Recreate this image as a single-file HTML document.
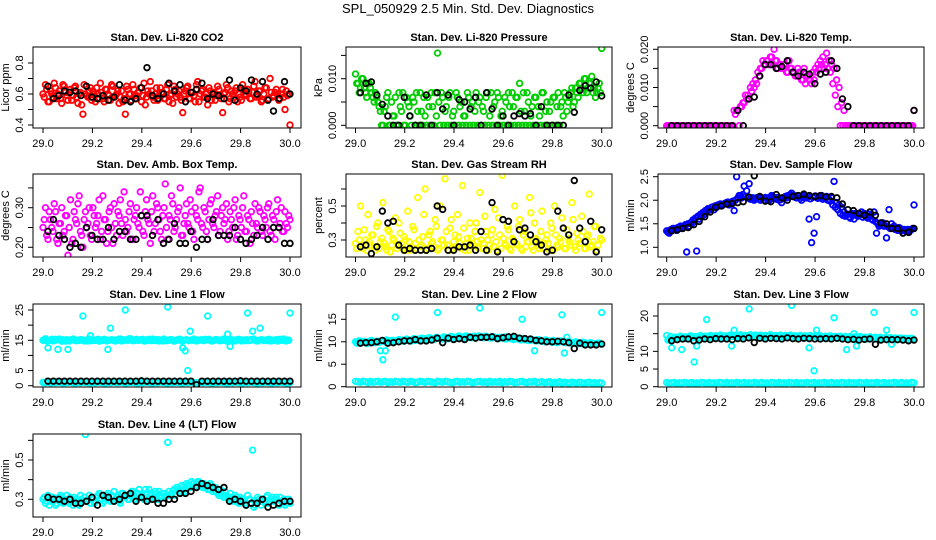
<!DOCTYPE html>
<html><head><meta charset="utf-8"><style>
html,body{margin:0;padding:0;background:#fff;}
svg{display:block;font-family:"Liberation Sans",Arial,sans-serif;}
</style></head><body>
<svg id="chart" width="936" height="540" viewBox="0 0 936 540" xmlns="http://www.w3.org/2000/svg">
<text x="468" y="13" text-anchor="middle" font-size="13">SPL_050929  2.5 Min. Std. Dev. Diagnostics</text>
</svg>
<script>
// ---- data ----
const xTicks = [29.0, 29.2, 29.4, 29.6, 29.8, 30.0];
const xTickLabels = ["29.0","29.2","29.4","29.6","29.8","30.0"];

const co2Color = [0.6,0.66,0.55,0.62,0.58,0.64,0.6,0.57,0.66,0.61,0.56,0.63,0.59,0.65,0.54,0.61,0.47,0.6,0.58,0.64,0.62,0.55,0.6,0.67,0.57,0.63,0.6,0.56,0.65,0.59,0.62,0.58,0.55,0.47,0.63,0.6,0.66,0.57,0.61,0.64,0.59,0.53,0.62,0.68,0.58,0.6,0.56,0.64,0.61,0.57,0.66,0.59,0.54,0.63,0.6,0.58,0.48,0.62,0.65,0.57,0.61,0.55,0.68,0.6,0.63,0.58,0.53,0.62,0.6,0.56,0.65,0.59,0.48,0.61,0.64,0.57,0.6,0.62,0.55,0.58,0.66,0.6,0.63,0.57,0.61,0.68,0.59,0.62,0.56,0.64,0.94,0.7,0.58,0.61,0.6,0.57,0.63,0.5,0.59,0.4];
const co2ColorB = [0.58,0.63,0.55,0.6,0.67,0.57,0.62,0.54,0.65,0.59,0.61,0.56,0.64,0.58,0.6,0.53,0.66,0.59,0.62,0.56,0.6,0.64,0.57,0.61,0.55,0.63,0.59,0.66,0.58,0.6,0.54,0.62,0.57,0.65,0.6,0.56,0.63,0.59,0.61,0.55,0.67,0.58,0.6,0.62,0.56,0.64,0.59,0.61,0.57,0.63,0.55,0.6,0.65,0.58,0.62,0.56,0.6,0.64,0.57,0.61,0.59,0.66,0.55,0.62,0.58,0.6,0.64,0.56,0.61,0.59,0.63,0.57,0.6,0.66,0.55,0.62,0.58,0.64,0.6,0.56,0.63,0.59,0.61,0.57,0.65,0.58,0.62,0.55,0.6,0.64,0.57,0.61,0.59,0.63,0.56,0.6,0.58,0.62,0.6];
const co2Black = [0.65,0.57,0.59,0.62,0.61,0.62,0.59,0.65,0.58,0.57,0.59,0.56,0.58,0.66,0.56,0.55,0.57,0.64,0.77,0.59,0.57,0.6,0.67,0.62,0.66,0.55,0.61,0.63,0.67,0.57,0.6,0.59,0.57,0.69,0.56,0.64,0.62,0.69,0.6,0.68,0.56,0.49,0.57,0.68,0.6];

const presColor = [0.011,0.009,0.008,0.01,0.007,0.009,0.008,0.006,0.007,0.005,0.003,0.0,0.004,0.007,0.0,0.002,0.006,0.0,0.004,0.007,0.0,0.005,0.002,0.006,0.0,0.003,0.007,0.0,0.002,0.006,0.0,0.004,0.007,0.0155,0.0,0.006,0.003,0.0,0.007,0.002,0.0,0.006,0.004,0.0,0.002,0.007,0.0,0.005,0.003,0.0,0.006,0.004,0.0,0.007,0.002,0.0,0.005,0.007,0.0,0.003,0.006,0.0,0.004,0.007,0.0,0.006,0.009,0.0,0.003,0.007,0.0,0.004,0.006,0.0,0.002,0.007,0.0,0.005,0.003,0.0,0.006,0.004,0.0,0.005,0.007,0.003,0.006,0.008,0.005,0.007,0.009,0.008,0.01,0.007,0.009,0.0105,0.008,0.007,0.009,0.0165];
const presColorB = [0.009,0.007,0.01,0.008,0.006,0.009,0.007,0.005,0.006,0.004,0.0,0.003,0.006,0.0,0.005,0.002,0.0,0.007,0.003,0.0,0.006,0.004,0.0,0.005,0.007,0.0,0.003,0.006,0.0,0.004,0.007,0.0,0.002,0.005,0.007,0.0,0.004,0.006,0.0,0.003,0.007,0.0,0.005,0.002,0.0,0.006,0.004,0.0,0.007,0.005,0.0,0.003,0.006,0.0,0.007,0.004,0.0,0.006,0.002,0.0,0.005,0.007,0.0,0.004,0.006,0.0,0.003,0.007,0.0,0.005,0.002,0.0,0.006,0.004,0.0,0.007,0.003,0.0,0.005,0.006,0.0,0.007,0.004,0.002,0.006,0.005,0.007,0.004,0.008,0.006,0.009,0.007,0.01,0.008,0.009,0.007,0.006,0.008,0.007];
const presBlack = [0.007,0.009,0.0093,0.0065,0.0045,0.002,0.0,0.0,0.006,0.002,0.0,0.0,0.0065,0.0,0.007,0.0035,0.0065,0.0,0.0055,0.005,0.0035,0.006,0.0,0.007,0.0035,0.0,0.002,0.0,0.002,0.0025,0.002,0.0025,0.0,0.004,0.0,0.0,0.0,0.0,0.0065,0.0028,0.0075,0.0085,0.008,0.0093,0.0063];

const tempColor = [0,0,0,0,0,0,0,0,0,0,0,0,0,0,0,0,0,0,0,0,0,0,0,0,0,0,0,0.004,0.004,0,0.005,0.006,0.007,0.007,0.009,0.01,0.011,0.013,0.015,0.016,0.017,0.016,0.018,0.02,0.017,0.016,0.015,0.016,0.014,0.017,0.015,0.014,0.013,0.014,0.012,0.015,0.013,0.012,0.011,0.012,0.014,0.015,0.016,0.015,0.019,0.017,0.016,0.015,0.012,0.01,0.006,0.004,0,0,0,0,0,0,0,0,0,0,0,0,0,0,0,0,0,0,0,0,0,0,0,0,0,0,0,0.004];
const tempColorB = [0,0,0,0,0,0,0,0,0,0,0,0,0,0,0,0,0,0,0,0,0,0,0,0,0,0,0,0.003,0.004,0.005,0.006,0.008,0.008,0.01,0.011,0.012,0.014,0.015,0.017,0.016,0.017,0.018,0.016,0.017,0.015,0.016,0.015,0.016,0.014,0.015,0.014,0.013,0.015,0.014,0.012,0.011,0.013,0.012,0.014,0.015,0.016,0.017,0.018,0.016,0.015,0.014,0.011,0.008,0.005,0,0,0,0,0,0,0,0,0,0,0,0,0,0,0,0,0,0,0,0,0,0,0,0,0,0,0,0,0,0];
const tempBlack = [0,0,0,0,0,0,0,0,0,0,0,0,0.004,0,0.007,0.0075,0.013,0.016,0.016,0.015,0.0155,0.017,0.014,0.013,0.014,0.0135,0.011,0.0135,0.014,0.017,0.015,0.007,0.005,0,0,0,0,0,0,0,0,0,0,0,0.004];

const ambColor = [0.25,0.3,0.22,0.27,0.24,0.29,0.21,0.26,0.23,0.28,0.18,0.32,0.22,0.27,0.31,0.24,0.2,0.29,0.26,0.23,0.3,0.25,0.28,0.22,0.33,0.27,0.24,0.3,0.21,0.26,0.29,0.32,0.23,0.27,0.25,0.31,0.22,0.28,0.26,0.34,0.24,0.29,0.27,0.21,0.33,0.26,0.3,0.24,0.28,0.36,0.22,0.27,0.31,0.25,0.29,0.35,0.23,0.28,0.26,0.32,0.24,0.3,0.27,0.35,0.25,0.29,0.22,0.31,0.26,0.28,0.33,0.24,0.3,0.27,0.22,0.29,0.25,0.32,0.23,0.27,0.3,0.24,0.28,0.21,0.26,0.31,0.25,0.29,0.23,0.27,0.3,0.24,0.28,0.22,0.32,0.26,0.24,0.29,0.25,0.27];
const ambColorB = [0.27,0.23,0.29,0.25,0.31,0.22,0.26,0.3,0.24,0.28,0.25,0.21,0.29,0.26,0.33,0.23,0.27,0.25,0.3,0.22,0.28,0.26,0.32,0.24,0.27,0.21,0.29,0.25,0.31,0.23,0.28,0.26,0.34,0.24,0.29,0.22,0.27,0.3,0.25,0.28,0.23,0.32,0.26,0.29,0.24,0.31,0.27,0.22,0.3,0.25,0.28,0.33,0.24,0.27,0.3,0.23,0.26,0.31,0.25,0.29,0.22,0.28,0.34,0.26,0.3,0.24,0.27,0.32,0.25,0.29,0.23,0.28,0.26,0.31,0.24,0.27,0.3,0.22,0.28,0.25,0.33,0.24,0.27,0.29,0.23,0.26,0.3,0.24,0.28,0.25,0.31,0.23,0.27,0.29,0.25,0.3,0.24,0.26,0.28];
const ambBlack = [0.24,0.27,0.23,0.22,0.2,0.21,0.2,0.25,0.23,0.22,0.22,0.25,0.22,0.24,0.24,0.22,0.22,0.28,0.28,0.23,0.27,0.21,0.22,0.26,0.21,0.21,0.24,0.2,0.22,0.22,0.27,0.23,0.23,0.23,0.25,0.22,0.21,0.22,0.23,0.25,0.22,0.25,0.25,0.21,0.21];

const rhColor = [0.28,0.35,0.5,0.25,0.3,0.45,0.27,0.33,0.24,0.4,0.29,0.52,0.26,0.36,0.23,0.31,0.43,0.27,0.34,0.25,0.3,0.47,0.24,0.38,0.28,0.55,0.26,0.32,0.6,0.25,0.35,0.29,0.42,0.24,0.5,0.3,0.66,0.27,0.37,0.25,0.33,0.45,0.28,0.62,0.24,0.31,0.4,0.26,0.35,0.29,0.58,0.25,0.44,0.3,0.27,0.36,0.48,0.24,0.33,0.68,0.28,0.38,0.25,0.31,0.5,0.27,0.42,0.24,0.35,0.29,0.55,0.26,0.4,0.3,0.25,0.47,0.28,0.33,0.24,0.37,0.5,0.27,0.31,0.43,0.25,0.36,0.29,0.52,0.26,0.34,0.28,0.44,0.25,0.32,0.57,0.27,0.38,0.24,0.72,0.3];
const rhColorB = [0.25,0.3,0.27,0.36,0.24,0.29,0.33,0.26,0.38,0.25,0.31,0.28,0.24,0.35,0.27,0.3,0.25,0.4,0.28,0.32,0.24,0.29,0.26,0.36,0.25,0.3,0.27,0.45,0.24,0.33,0.28,0.26,0.38,0.25,0.3,0.27,0.35,0.24,0.42,0.29,0.26,0.32,0.25,0.37,0.28,0.24,0.31,0.27,0.4,0.25,0.3,0.28,0.35,0.24,0.33,0.26,0.29,0.43,0.25,0.31,0.27,0.36,0.24,0.3,0.28,0.38,0.25,0.33,0.26,0.29,0.46,0.24,0.31,0.27,0.35,0.25,0.3,0.28,0.4,0.24,0.33,0.26,0.29,0.37,0.25,0.31,0.27,0.42,0.24,0.3,0.28,0.35,0.25,0.33,0.26,0.29,0.38,0.27,0.31];
const rhBlack = [0.26,0.27,0.22,0.26,0.47,0.4,0.41,0.27,0.24,0.25,0.24,0.24,0.24,0.25,0.5,0.48,0.24,0.24,0.26,0.26,0.27,0.24,0.35,0.24,0.52,0.23,0.42,0.41,0.29,0.36,0.37,0.33,0.29,0.27,0.23,0.24,0.47,0.37,0.33,0.65,0.37,0.29,0.41,0.23,0.36];

const sampleColor = [1.35,1.3,1.38,1.4,1.36,1.42,1.4,1.45,0.9,1.45,1.5,1.55,0.92,1.6,1.65,1.7,1.75,1.8,1.85,1.8,1.85,1.9,1.88,1.92,1.95,1.9,1.95,1.78,2.5,2.1,2.05,2.3,2.2,2.35,2.05,2.0,2.05,2.02,2.05,2.0,2.05,2.0,2.1,2.05,2.02,2.0,1.95,2.05,2.05,2.1,2.15,2.1,2.05,2.08,2.0,2.1,2.05,1.6,1.1,1.3,1.65,2.05,2.1,2.05,2.08,2.02,2.05,2.4,1.95,1.9,1.85,1.75,1.7,1.65,1.72,1.6,1.68,1.7,1.75,1.72,1.65,1.7,1.6,1.75,1.3,1.45,1.5,1.45,1.2,1.8,1.5,1.45,1.4,1.42,1.35,1.38,1.35,1.32,1.38,1.9];
const sampleColorB = [1.32,1.37,1.4,1.38,1.42,1.45,1.43,1.48,1.5,1.52,1.58,1.62,1.66,1.7,1.74,1.78,1.82,1.8,1.86,1.88,1.9,1.92,1.9,1.94,1.96,1.93,1.98,2.0,2.05,2.1,2.12,2.08,2.05,2.02,2.05,2.03,2.06,2.0,2.04,2.06,2.02,2.05,2.08,2.03,2.06,2.01,2.04,2.08,2.1,2.12,2.08,2.06,2.1,2.04,2.07,2.05,2.08,2.03,2.06,2.09,2.04,2.07,2.02,2.05,2.0,1.98,1.9,1.85,1.8,1.72,1.68,1.66,1.7,1.62,1.68,1.72,1.66,1.7,1.64,1.68,1.62,1.66,1.58,1.55,1.5,1.48,1.52,1.46,1.44,1.4,1.42,1.38,1.36,1.4,1.37,1.35,1.38,1.36,1.4];
const sampleBlack = [1.35,1.37,1.4,1.42,1.48,1.55,1.65,1.75,1.85,1.88,1.92,1.93,1.95,1.97,2.07,2.52,2.08,1.98,1.97,2.12,2.05,2.0,2.08,2.1,2.13,2.1,2.08,2.1,2.07,2.08,2.05,1.92,1.8,1.78,1.72,1.68,1.75,1.68,1.52,1.5,1.4,1.4,1.3,1.32,1.4];

const line1High = [15,15.5,12.5,15,14.8,15.3,12,15,15.2,14.7,12,15.1,15.4,14.9,15,15.2,23,15,14.8,16.5,15.1,15,15.3,14.9,15,15.2,12,19,15.1,14.8,15,15.4,15.2,25,15,15.5,14.9,15.1,15,15.2,15.3,14.8,15,15.1,15.4,14.9,15.2,15,14.8,15.1,26,15.2,15,14.9,15.1,15.3,12.5,11.5,5,18,15,15.2,14.9,15.1,15,15.3,23,15,14.8,15.2,15.1,14.9,15,15.2,17,13,15.1,14.8,15.2,15,15.1,14.9,24,15.2,18,15,14.8,19,15.1,15,14.9,15.2,15,15.1,14.8,15.3,15,14.9,15.1,24];
const line1HighB = [15.2,14.8,15,15.3,14.9,15.1,15.4,14.7,15,15.2,14.8,15.1,15.3,14.9,15,15.2,14.8,15.1,15.4,14.9,15,15.2,14.7,15.1,15.3,14.8,15,15.2,14.9,15.1,15.4,14.8,15,15.2,15.5,15.1,14.9,15.3,15,15.2,14.8,15.1,15.3,14.9,15,15.2,14.8,15.1,15.4,14.9,15,15.2,14.7,15.1,15.3,14.8,15,15.2,14.9,15.1,15.4,14.8,15,15.2,14.9,15.1,15.3,14.8,15,15.2,14.9,15.1,15.4,14.8,15,15.2,14.9,15.1,15.3,14.8,15,15.2,14.9,15.1,15.4,14.8,15,15.2,14.9,15.1,15.3,14.8,15,15.2,14.9,15.1,15.4,14.8,15];
const line1Low = [1.1,1.0,1.2,0.9,1.1,1.0,1.2,1.1,0.9,1.0,1.1,1.2,1.0,0.9,1.1,1.0,1.2,1.1,1.0,0.9,1.1,1.0,1.2,1.1,1.0,0.9,1.1,1.0,1.2,1.1,1.0,1.2,1.1,0.9,1.0,1.1,1.2,1.0,0.9,1.1,1.0,1.2,1.1,1.0,0.9,1.1,1.0,1.2,1.1,1.0,0.9,1.1,1.0,1.2,1.1,1.0,0.9,1.1,1.0,1.2,1.1,1.0,0.9,1.1,1.0,1.2,1.1,1.0,0.9,1.1,1.0,1.2,1.1,1.0,0.9,1.1,1.0,1.2,1.1,1.0,0.9,1.1,1.0,1.2,1.1,1.0,0.9,1.1,1.0,1.2,1.1,1.0,0.9,1.1,1.0,1.2,1.1,1.0,0.9,1.1];
const line1Black = [1.5,1.5,1.5,1.5,1.5,1.5,1.5,1.5,1.5,1.5,1.5,1.5,1.5,1.5,1.5,1.5,1.5,1.6,1.5,1.5,1.5,1.5,1.5,1.5,1.5,1.5,1.5,0.3,1.5,1.5,1.5,1.5,1.5,1.5,1.5,1.6,1.5,1.5,1.5,1.5,1.5,1.5,1.5,1.5,1.5];

const line2High = [10,9.8,10.1,9.9,10,9.7,10.2,9.9,10,10.1,8,6,8,10.2,10,10.3,15.5,10.1,10.2,10.4,10.3,10.5,10.2,10.4,10.3,10.6,10.4,10.5,10.7,10.6,10.8,10.5,10.7,16.5,10.8,10.6,10.9,10.7,11,10.8,10.9,11.1,10.8,11,11.2,10.9,11.1,11,11.2,11.1,17.5,11,11.2,11.1,10.9,11.1,11,10.8,11,10.9,11.1,10.8,11,10.9,10.7,10.9,10.6,15,10.5,10.4,10.3,10.5,8,10.2,10.3,10.1,10,10.2,10.1,9.9,10,9.8,10,16,7.5,11,9.8,9.6,9.8,9.5,9.7,9.6,9.8,9.5,9.7,9.4,9.6,9.5,9.7,16.5];
const line2HighB = [9.7,10.2,9.9,10.1,9.6,10,10.3,9.8,10.1,9.9,10.2,10,10.4,10.1,10.3,10,10.2,10.5,10.3,10.1,10.6,10.4,10.2,10.7,10.5,10.3,10.8,10.6,10.4,10.9,10.7,10.5,11,10.8,10.6,11.1,10.9,10.7,11.2,11,10.8,11.3,11.1,10.9,11.3,11.1,10.9,11.2,11,11.3,11.1,10.9,11.2,11,10.8,11.1,10.9,10.7,11,10.8,10.6,10.9,10.7,10.5,10.8,10.6,10.4,10.7,10.5,10.3,10.6,10.4,10.2,10.5,10.3,10.1,10.4,10.2,10,10.3,10.1,9.9,10.2,10,9.8,10.1,9.9,9.7,10,9.8,9.6,9.9,9.7,9.5,9.8,9.6,9.4,9.7,9.5];
const line2Low = [1.2,1.1,1.0,1.2,1.1,0.9,1.2,1.0,1.1,1.2,1.0,1.1,1.2,0.9,1.1,1.0,1.2,1.1,1.0,1.2,1.1,1.0,1.2,1.1,0.9,1.0,1.2,1.1,1.0,1.2,1.1,1.0,0.9,1.2,1.1,1.0,1.2,1.1,1.0,0.9,1.1,1.2,1.0,1.1,1.0,1.2,1.1,0.9,1.0,1.1,1.2,1.0,1.1,0.9,1.2,1.0,1.1,1.0,1.2,0.9,1.1,1.0,1.2,1.1,0.9,1.0,1.1,1.2,1.0,0.9,1.1,1.0,1.2,0.9,1.0,1.1,0.9,1.0,1.1,0.8,1.0,0.9,1.1,0.8,1.0,0.9,0.8,1.0,0.9,0.8,1.0,0.9,0.8,0.9,1.0,0.8,0.9,0.7,0.9,0.8];
const line2Black = [9.7,9.8,9.8,10,10.3,9.7,9.8,10,10.2,10.2,10.5,10.2,10.2,10.4,10.8,9.8,10.8,10.5,10.7,10.5,11,10.8,11,11,11.1,10.7,10.9,11.1,11.2,10.8,10.7,10.6,10.3,10.2,10,10,10.1,10,9.8,8.5,9.7,9.3,9.3,9.3,9.5];

const line3High = [14.5,13.5,11,13.7,13.5,13.8,10.5,13.9,13.6,14,13.8,7,11.5,13.9,14,13.7,19,14.1,13.8,14,14.2,13.9,14.1,13.8,14,14.2,11.5,16,14.1,14,14.2,13.9,14.1,22,14,14.2,14.1,13.9,14.2,14,14.1,14.3,14,14.2,14.1,13.9,14.2,14,14.1,14.3,23,14.1,14,14.2,13.9,14.1,13.8,11,14,4.5,16,14.2,13.9,14.1,14,13.8,14.1,19.5,14,13.8,13.9,13.7,10.5,13.8,13.9,15,11.5,13.8,13.7,13.9,13.6,13.8,13.7,21,13.8,13.5,13.7,13.6,16,13.8,12,13.6,13.5,13.7,13.6,13.4,13.6,13.5,13.7,21];
const line3HighB = [13.2,14.2,13.6,14,13.4,14.3,13.8,14.1,13.5,14.4,13.9,14.2,13.6,14.5,14,14.3,13.8,14.5,14.1,14.4,13.9,14.6,14.2,14.4,14,14.6,14.2,14.5,14,14.7,14.3,14.5,14.1,14.7,14.3,14.6,14.1,14.6,14.2,14.5,14,14.7,14.3,14.5,14.1,14.6,14.2,14.5,14,14.6,14.2,14.4,13.9,14.5,14.1,14.4,13.9,14.5,14.1,14.4,13.9,14.4,14,14.3,13.8,14.4,14,14.2,13.7,14.3,13.9,14.2,13.7,14.2,13.8,14.1,13.6,14.2,13.8,14,13.5,14.1,13.7,14,13.5,14,13.6,13.9,13.4,13.9,13.6,13.8,13.3,13.8,13.5,13.7,13.3,13.7,13.5];
const line3Low = [1.2,1.0,1.1,1.2,0.9,1.1,1.0,1.2,1.1,1.0,1.2,0.9,1.1,1.0,1.2,1.1,1.0,1.2,0.9,1.1,1.0,1.2,1.1,1.0,1.2,0.9,1.1,1.0,1.2,1.1,1.0,1.2,0.9,1.1,1.0,1.2,1.1,1.0,1.2,0.9,1.1,1.0,1.2,1.1,1.0,1.2,0.9,1.1,1.0,1.2,1.1,1.0,1.2,0.9,1.1,1.0,1.2,1.1,1.0,1.2,0.9,1.1,1.0,1.2,1.1,1.0,1.2,0.9,1.1,1.0,1.2,1.1,1.0,1.2,0.9,1.1,1.0,1.2,1.1,1.0,1.2,0.9,1.1,1.0,1.2,1.1,1.0,1.2,0.9,1.1,1.0,1.2,1.1,1.0,1.2,0.9,1.1,1.0,1.2,1.1];
const line3Black = [13,13.3,13.5,13.5,13,13.2,13.5,13.3,13.6,13.5,13.5,13.3,13.6,13.5,13.8,12.5,13.7,13.5,13.7,13.6,13.5,13.8,13.6,13.5,13.7,13.6,13.5,13.5,13.6,13.5,13.7,13.5,13.3,13.4,13.2,13.4,13.5,12,13.2,13.3,13.3,13.3,13.2,13,13.2];

const line4Color = [0.3,0.28,0.32,0.29,0.31,0.27,0.3,0.32,0.28,0.3,0.29,0.31,0.27,0.3,0.28,0.32,0.29,0.63,0.3,0.28,0.31,0.29,0.32,0.3,0.28,0.31,0.33,0.29,0.31,0.3,0.32,0.28,0.33,0.31,0.3,0.32,0.34,0.3,0.33,0.31,0.32,0.35,0.3,0.33,0.31,0.34,0.3,0.32,0.33,0.31,0.59,0.32,0.34,0.32,0.35,0.33,0.36,0.34,0.37,0.36,0.38,0.37,0.39,0.38,0.36,0.37,0.35,0.38,0.34,0.36,0.33,0.35,0.32,0.34,0.31,0.33,0.3,0.32,0.29,0.31,0.3,0.28,0.32,0.3,0.55,0.27,0.31,0.29,0.3,0.28,0.32,0.29,0.31,0.3,0.28,0.31,0.29,0.27,0.3,0.28];
const line4ColorB = [0.31,0.29,0.27,0.31,0.3,0.28,0.31,0.29,0.3,0.32,0.28,0.3,0.31,0.29,0.27,0.3,0.31,0.29,0.32,0.3,0.28,0.31,0.33,0.3,0.29,0.32,0.3,0.32,0.34,0.31,0.29,0.33,0.31,0.32,0.3,0.34,0.32,0.31,0.35,0.32,0.3,0.33,0.35,0.32,0.31,0.33,0.34,0.31,0.33,0.32,0.34,0.33,0.35,0.36,0.34,0.37,0.35,0.38,0.37,0.39,0.38,0.37,0.39,0.37,0.38,0.36,0.35,0.37,0.35,0.34,0.32,0.33,0.31,0.32,0.3,0.31,0.29,0.31,0.28,0.3,0.29,0.27,0.3,0.28,0.26,0.29,0.3,0.27,0.29,0.31,0.28,0.3,0.29,0.31,0.27,0.29,0.3,0.28,0.3];
const line4Black = [0.31,0.3,0.3,0.29,0.3,0.28,0.28,0.29,0.31,0.27,0.32,0.31,0.29,0.3,0.32,0.33,0.29,0.31,0.29,0.3,0.28,0.28,0.3,0.3,0.33,0.33,0.34,0.36,0.38,0.37,0.36,0.35,0.36,0.29,0.3,0.29,0.27,0.28,0.28,0.3,0.26,0.27,0.28,0.29,0.29];

// ---- layout ----
const cols = [{l:33,r:301,x0:43,x1:290},{l:346,r:612,x0:355.5,x1:601.7},{l:658,r:924,x0:666.7,x1:914}];
const rows = [{t:47,b:128},{t:174,b:257},{t:304,b:387},{t:434,b:517}];

const panels = [
 {name:"co2",title:"Stan. Dev. Li-820 CO2",ylab:"Licor ppm",c:0,r:0,cal:[0.4,125,0.8,63],ticks:[0.4,0.5,0.6,0.7,0.8],labels:{"0.4":"0.4","0.6":"0.6","0.8":"0.8"},color:"#ff0000",sets:[co2Color,co2ColorB],black:co2Black},
 {name:"pressure",title:"Stan. Dev. Li-820 Pressure",ylab:"kPa",c:1,r:0,cal:[0,125.3,0.01,78.7],ticks:[0,0.005,0.01,0.015],labels:{"0":"0.000","0.01":"0.010"},color:"#00cd00",sets:[presColor,presColorB],black:presBlack},
 {name:"temp",title:"Stan. Dev. Li-820 Temp.",ylab:"degrees C",c:2,r:0,cal:[0,125.7,0.02,49.3],ticks:[0,0.005,0.01,0.015,0.02],labels:{"0":"0.000","0.01":"0.010","0.02":"0.020"},color:"#ff00ff",sets:[tempColor,tempColorB],black:tempBlack},
 {name:"amb-box-temp",title:"Stan. Dev. Amb. Box Temp.",ylab:"degrees C",c:0,r:1,cal:[0.2,247.3,0.3,207.7],ticks:[0.2,0.25,0.3,0.35],labels:{"0.2":"0.20","0.3":"0.30"},color:"#ff00ff",sets:[ambColor,ambColorB],black:ambBlack},
 {name:"gas-rh",title:"Stan. Dev. Gas Stream RH",ylab:"percent",c:1,r:1,cal:[0.3,240,0.5,206],ticks:[0.3,0.4,0.5,0.6],labels:{"0.3":"0.3","0.5":"0.5"},color:"#ffff00",sets:[rhColor,rhColorB],black:rhBlack},
 {name:"sample-flow",title:"Stan. Dev. Sample Flow",ylab:"ml/min",c:2,r:1,cal:[1.0,247.3,2.5,176.7],ticks:[1,1.5,2,2.5],labels:{"1":"1.0","1.5":"1.5","2":"2.0","2.5":"2.5"},color:"#0000ff",sets:[sampleColor,sampleColorB],black:sampleBlack},
 {name:"line1-flow",title:"Stan. Dev. Line 1 Flow",ylab:"ml/min",c:0,r:2,cal:[0,385.7,25,310],ticks:[0,5,10,15,20,25],labels:{"0":"0","5":"5","15":"15","25":"25"},color:"#00ffff",sets:[line1High,line1HighB,line1Low],black:line1Black},
 {name:"line2-flow",title:"Stan. Dev. Line 2 Flow",ylab:"ml/min",c:1,r:2,cal:[0,386.7,15,319.3],ticks:[0,5,10,15],labels:{"0":"0","5":"5","10":"10","15":"15"},color:"#00ffff",sets:[line2High,line2HighB,line2Low],black:line2Black},
 {name:"line3-flow",title:"Stan. Dev. Line 3 Flow",ylab:"ml/min",c:2,r:2,cal:[0,386.7,20,316],ticks:[0,5,10,15,20],labels:{"0":"0","5":"5","10":"10","20":"20"},color:"#00ffff",sets:[line3High,line3HighB,line3Low],black:line3Black},
 {name:"line4-flow",title:"Stan. Dev. Line 4 (LT) Flow",ylab:"ml/min",c:0,r:3,cal:[0.3,499.3,0.5,460],ticks:[0.3,0.4,0.5,0.6],labels:{"0.3":"0.3","0.5":"0.5"},color:"#00ffff",sets:[line4Color,line4ColorB],black:line4Black}
];

const NS = "http://www.w3.org/2000/svg";
const svg = document.getElementById("chart");
function mk(tag, attrs, parent){ const e=document.createElementNS(NS,tag); for(const k in attrs) e.setAttribute(k,attrs[k]); (parent||svg).appendChild(e); return e; }

panels.forEach(p=>{
  const C=cols[p.c], R=rows[p.r];
  const g = mk("g",{});
  
  
  const xs = v => C.x0 + (v-29)*(C.x1-C.x0);
  const ys = v => p.cal[1] + (v-p.cal[0])*(p.cal[3]-p.cal[1])/(p.cal[2]-p.cal[0]);
  const clipId = "clip-"+p.name;
  const cp = mk("clipPath",{id:clipId},g);
  mk("rect",{x:C.l,y:R.t,width:C.r-C.l,height:R.b-R.t},cp);
  const pts = mk("g",{"clip-path":"url(#"+clipId+")"},g);
  p.sets.forEach((arr,si)=>{
    const half = (si%2===1) ? 0.5 : 0;
    arr.forEach((v,i)=>{
      const x = Math.min(30, 29 + (i+half)/(arr.length-1+half*2));
      const c = mk("circle",{cx:xs(x),cy:ys(v),r:2.8,fill:"none",stroke:p.color,"stroke-width":1.8},pts);
      
      
    });
  });
  p.black.forEach((v,i)=>{
    const x = 29.02 + i*0.98/(p.black.length-1);
    const c = mk("circle",{cx:xs(x),cy:ys(v),r:2.8,fill:"none",stroke:"#000","stroke-width":1.8},pts);
    
    
  });
  const box = mk("rect",{x:C.l,y:R.t,width:C.r-C.l,height:R.b-R.t,fill:"none",stroke:"#000","stroke-width":1},g);
  
  
  const t = mk("text",{x:(C.l+C.r)/2,y:R.t-6,"text-anchor":"middle","font-size":11,"font-weight":"bold"},g);
  t.textContent = p.title;
  
  
  xTicks.forEach((v,i)=>{
    const X = xs(v);
    mk("line",{x1:X,x2:X,y1:R.b,y2:R.b+5,stroke:"#000"},g);
    const lb = mk("text",{x:X,y:R.b+19,"text-anchor":"middle","font-size":11},g);
    lb.textContent = xTickLabels[i];
    
    
  });
  p.ticks.forEach(v=>{
    const Y = ys(v);
    mk("line",{x1:C.l-5,x2:C.l,y1:Y,y2:Y,stroke:"#000"},g);
    const key = String(v);
    if(p.labels[key]!==undefined){
      const lx = C.l-10;
      const lb = mk("text",{x:lx,y:Y,"text-anchor":"middle","font-size":11,transform:"rotate(-90 "+lx+" "+Y+")"},g);
      lb.textContent = p.labels[key];
      
      
    }
  });
  const yl = C.l-24, ym=(R.t+R.b)/2;
  const yt = mk("text",{x:yl,y:ym,"text-anchor":"middle","font-size":11,transform:"rotate(-90 "+yl+" "+ym+")"},g);
  yt.textContent = p.ylab;
  
  
});
</script>
</body></html>
